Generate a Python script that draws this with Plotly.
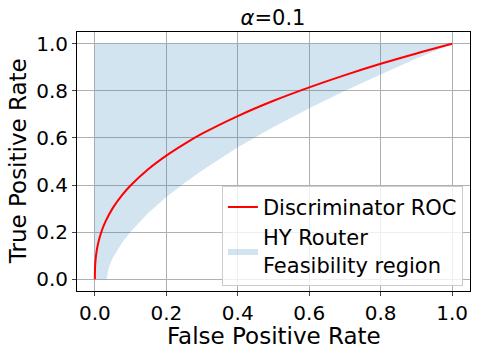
import plotly.graph_objects as go

# Discriminator ROC curve
roc_fpr = [0.0, 0.0005, 0.002, 0.005, 0.01, 0.02, 0.03, 0.05, 0.075, 0.1, 0.15,
           0.2, 0.25, 0.3, 0.4, 0.5, 0.6, 0.7, 0.8, 0.9, 1.0]
roc_tpr = [0.0, 0.048, 0.083, 0.120, 0.158, 0.209, 0.246, 0.302, 0.355, 0.398, 0.468,
           0.525, 0.574, 0.618, 0.693, 0.758, 0.815, 0.867, 0.915, 0.959, 1.0]

# lower edge of the HY router feasibility region
low_fpr = [0.0325, 0.04, 0.05, 0.075, 0.1, 0.15, 0.2, 0.25, 0.3, 0.4, 0.5,
           0.6, 0.7, 0.8, 0.9, 1.0]
low_tpr = [0.0, 0.054, 0.090, 0.153, 0.202, 0.282, 0.349, 0.408, 0.462, 0.560, 0.646,
           0.726, 0.800, 0.870, 0.937, 1.0]

tick_vals = [0, 0.2, 0.4, 0.6, 0.8, 1.0]
tick_text = ['0.0', '0.2', '0.4', '0.6', '0.8', '1.0']

# region outline: up the left side, along the top, back down the lower edge
reg_x = [0.0, 0.0] + low_fpr[::-1] + [0.0]
reg_y = [0.0, 1.0] + low_tpr[::-1] + [0.0]

fig = go.Figure()
fig.add_trace(go.Scatter(x=reg_x, y=reg_y, fill='toself', mode='lines',
                         line=dict(width=0), fillcolor='rgba(31,119,180,0.2)',
                         name='HY Router<br>Feasibility region', legendrank=2,
                         hoverinfo='skip'))
fig.add_trace(go.Scatter(x=roc_fpr, y=roc_tpr, mode='lines',
                         line=dict(color='red', width=2, shape='spline'),
                         name='Discriminator ROC', legendrank=1))

fig.update_layout(
    width=479, height=356, template='simple_white',
    font=dict(family='DejaVu Sans', size=20, color='black'),
    margin=dict(l=77, r=9, t=32, b=65, autoexpand=False),
    title=dict(text='<i>α</i>=0.1', x=0.57, xanchor='center', y=0.95,
               yanchor='middle', font=dict(size=21)),
    legend=dict(x=0.982, xanchor='right', y=0.02, yanchor='bottom',
                bgcolor='rgba(255,255,255,0.8)', bordercolor='#cccccc',
                borderwidth=1, font=dict(size=21), itemwidth=30, tracegroupgap=0),
    plot_bgcolor='white',
)
# axis titles as annotations so they sit where the reference puts them
fig.add_annotation(text='False Positive Rate', xref='paper', yref='paper',
                   x=0.5, y=-0.172, xanchor='center', yanchor='middle',
                   showarrow=False, font=dict(size=23))
fig.add_annotation(text='True Positive Rate', xref='paper', yref='paper',
                   x=-0.151, y=0.5, xanchor='center', yanchor='middle',
                   textangle=-90, showarrow=False, font=dict(size=23))

axis_style = dict(range=[-0.05, 1.05], tickvals=tick_vals, ticktext=tick_text,
                  showgrid=True, gridcolor='#b0b0b0', gridwidth=1, automargin=False,
                  ticks='outside', ticklen=4, mirror=True, showline=True,
                  linecolor='black', linewidth=1, zeroline=False)
fig.update_xaxes(**axis_style)
fig.update_yaxes(**axis_style)

# page body has a default 8px margin; drop it so the figure sits at the corner
fig.write_html("out.html", config={'displayModeBar': False},
               post_script="document.body.style.margin='0';")
